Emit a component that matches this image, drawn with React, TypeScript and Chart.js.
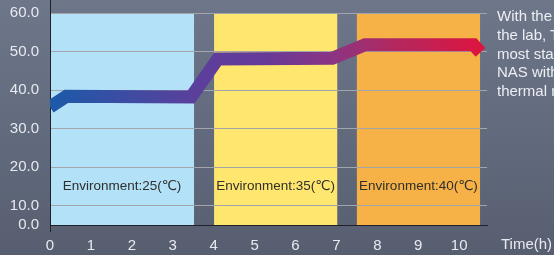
import { useEffect, useRef } from 'react';
import { Chart, registerables } from 'chart.js';

Chart.register(...registerables);

// ---- data ----
const hours = [0, 0.4, 3.45, 4.1, 6.9, 7.7, 10.35, 10.52];
const temps = [35.6, 38.4, 38.2, 48.1, 48.3, 51.8, 51.8, 49.8];

const xTickValues = [0, 1, 2, 3, 4, 5, 6, 7, 8, 9, 10];
const yTickValues = [5, 10, 20, 30, 40, 50, 60];
const yTickLabels = ['0.0', '10.0', '20.0', '30.0', '40.0', '50.0', '60.0'];

const bandStart = [0, 4.01, 7.5];
const bandEnd = [3.52, 7.02, 10.51];
const bandLabels = ['Environment:25(℃)', 'Environment:35(℃)', 'Environment:40(℃)'];
const bandColors = ['#b3e1f8', '#ffe76f', '#f7b247'];
const bandTop = 60;
const bandLabelAt = 15;

const xTitle = 'Time(h)';
const noteLines = [
  'With the temperature test in',
  'the lab, TNAS is one of the',
  'most stable and quietest',
  'NAS with excellent',
  'thermal management.',
];

const yMin = 5;
const yMax = 63.4;
const xMin = 0;
const xMax = 10.68;

const FONT = '"Liberation Sans", Arial, "DejaVu Sans", sans-serif';

const bandsPlugin = {
  id: 'bands',
  beforeDraw(chart: any) {
    const { ctx } = chart;
    const x = chart.scales.x;
    const y = chart.scales.y;
    ctx.save();
    for (let i = 0; i < bandStart.length; i++) {
      const x0 = x.getPixelForValue(bandStart[i]);
      const x1 = x.getPixelForValue(bandEnd[i]);
      const yT = y.getPixelForValue(bandTop);
      const yB = y.getPixelForValue(yMin);
      ctx.fillStyle = bandColors[i];
      ctx.fillRect(x0, yT, x1 - x0, yB - yT);
      ctx.fillStyle = '#2f2f2c';
      ctx.font = '13.5px ' + FONT;
      ctx.textAlign = 'center';
      ctx.textBaseline = 'middle';
      ctx.fillText(bandLabels[i], (x0 + x1) / 2, y.getPixelForValue(bandLabelAt));
    }
    ctx.restore();
  },
};

export default function App() {
  const ref = useRef<HTMLCanvasElement | null>(null);

  useEffect(() => {
    if (!ref.current) return;
    const chart = new Chart(ref.current, {
      type: 'line',
      data: {
        datasets: [
          {
            data: hours.map((h, i) => ({ x: h, y: temps[i] })),
            borderWidth: 13,
            borderCapStyle: 'butt',
            borderJoinStyle: 'miter',
            tension: 0,
            pointRadius: 0,
            clip: 0,
            borderColor: (c: any) => {
              const ch = c.chart;
              if (!ch.chartArea) return '#5a3f9c';
              const xs = ch.scales.x;
              const g = ch.ctx.createLinearGradient(
                xs.getPixelForValue(hours[0]), 0,
                xs.getPixelForValue(hours[hours.length - 1]), 0
              );
              g.addColorStop(0, '#1b5aa9');
              g.addColorStop(0.33, '#5a409c');
              g.addColorStop(0.5, '#673a98');
              g.addColorStop(0.66, '#8c3482');
              g.addColorStop(0.8, '#b3285f');
              g.addColorStop(1, '#dc1540');
              return g;
            },
          } as any,
        ],
      },
      options: {
        animation: false,
        responsive: false,
        maintainAspectRatio: false,
        layout: { padding: { left: 0, right: 67, top: 0, bottom: 0 } },
        plugins: { legend: { display: false }, tooltip: { enabled: false } },
        scales: {
          x: {
            type: 'linear',
            min: xMin,
            max: xMax,
            afterBuildTicks: (s: any) => {
              s.ticks = xTickValues.map((v) => ({ value: v }));
            },
            afterFit: (s: any) => {
              s.height = 30;
              s.paddingLeft = 0;
              s.paddingRight = 0;
            },
            grid: {
              drawOnChartArea: false,
              drawTicks: true,
              tickLength: 7,
              color: (c: any) => (c.index === 0 ? '#1e2128' : 'rgba(0,0,0,0)'),
            },
            border: { display: true, color: '#1e2128', width: 1 },
            ticks: {
              color: '#e8eaef',
              font: { family: FONT, size: 15 },
              padding: 5,
              maxRotation: 0,
              callback: (v: any) => String(v),
            },
          },
          y: {
            type: 'linear',
            min: yMin,
            max: yMax,
            afterBuildTicks: (s: any) => {
              s.ticks = yTickValues.map((v) => ({ value: v }));
            },
            afterFit: (s: any) => {
              s.width = 50;
              s.paddingTop = 0;
              s.paddingBottom = 0;
            },
            grid: {
              drawTicks: false,
              color: (c: any) => (c.index === 0 ? 'rgba(0,0,0,0)' : '#a2a5aa'),
              lineWidth: 1,
            },
            border: { display: true, color: '#1e2128', width: 1 },
            ticks: {
              color: '#e8eaef',
              font: { family: FONT, size: 15 },
              padding: 11,
              callback: (v: any) => yTickLabels[yTickValues.indexOf(v)],
            },
          },
        },
      },
      plugins: [bandsPlugin],
    } as any);
    return () => chart.destroy();
  }, []);

  return (
    <div
      style={{
        position: 'fixed',
        left: 0,
        top: 0,
        width: 554,
        height: 255,
        overflow: 'hidden',
        background: 'linear-gradient(180deg, #6e778a 0%, #60687b 60%, #575e70 100%)',
        fontFamily: FONT,
      }}
    >
      <canvas ref={ref} width={554} height={255} style={{ position: 'absolute', left: 0, top: 0, width: 554, height: 255 }} />
      <span
        style={{
          position: 'absolute',
          left: 501,
          top: 236,
          fontSize: 15,
          lineHeight: '15px',
          color: '#e8eaef',
          whiteSpace: 'nowrap',
        }}
      >
        {xTitle}
      </span>
      <div
        style={{
          position: 'absolute',
          left: 497,
          top: 7,
          fontSize: 15,
          lineHeight: '18.75px',
          color: '#eceef2',
          whiteSpace: 'nowrap',
        }}
      >
        {noteLines.map((l, i) => (
          <div key={i}>{l}</div>
        ))}
      </div>
    </div>
  );
}
